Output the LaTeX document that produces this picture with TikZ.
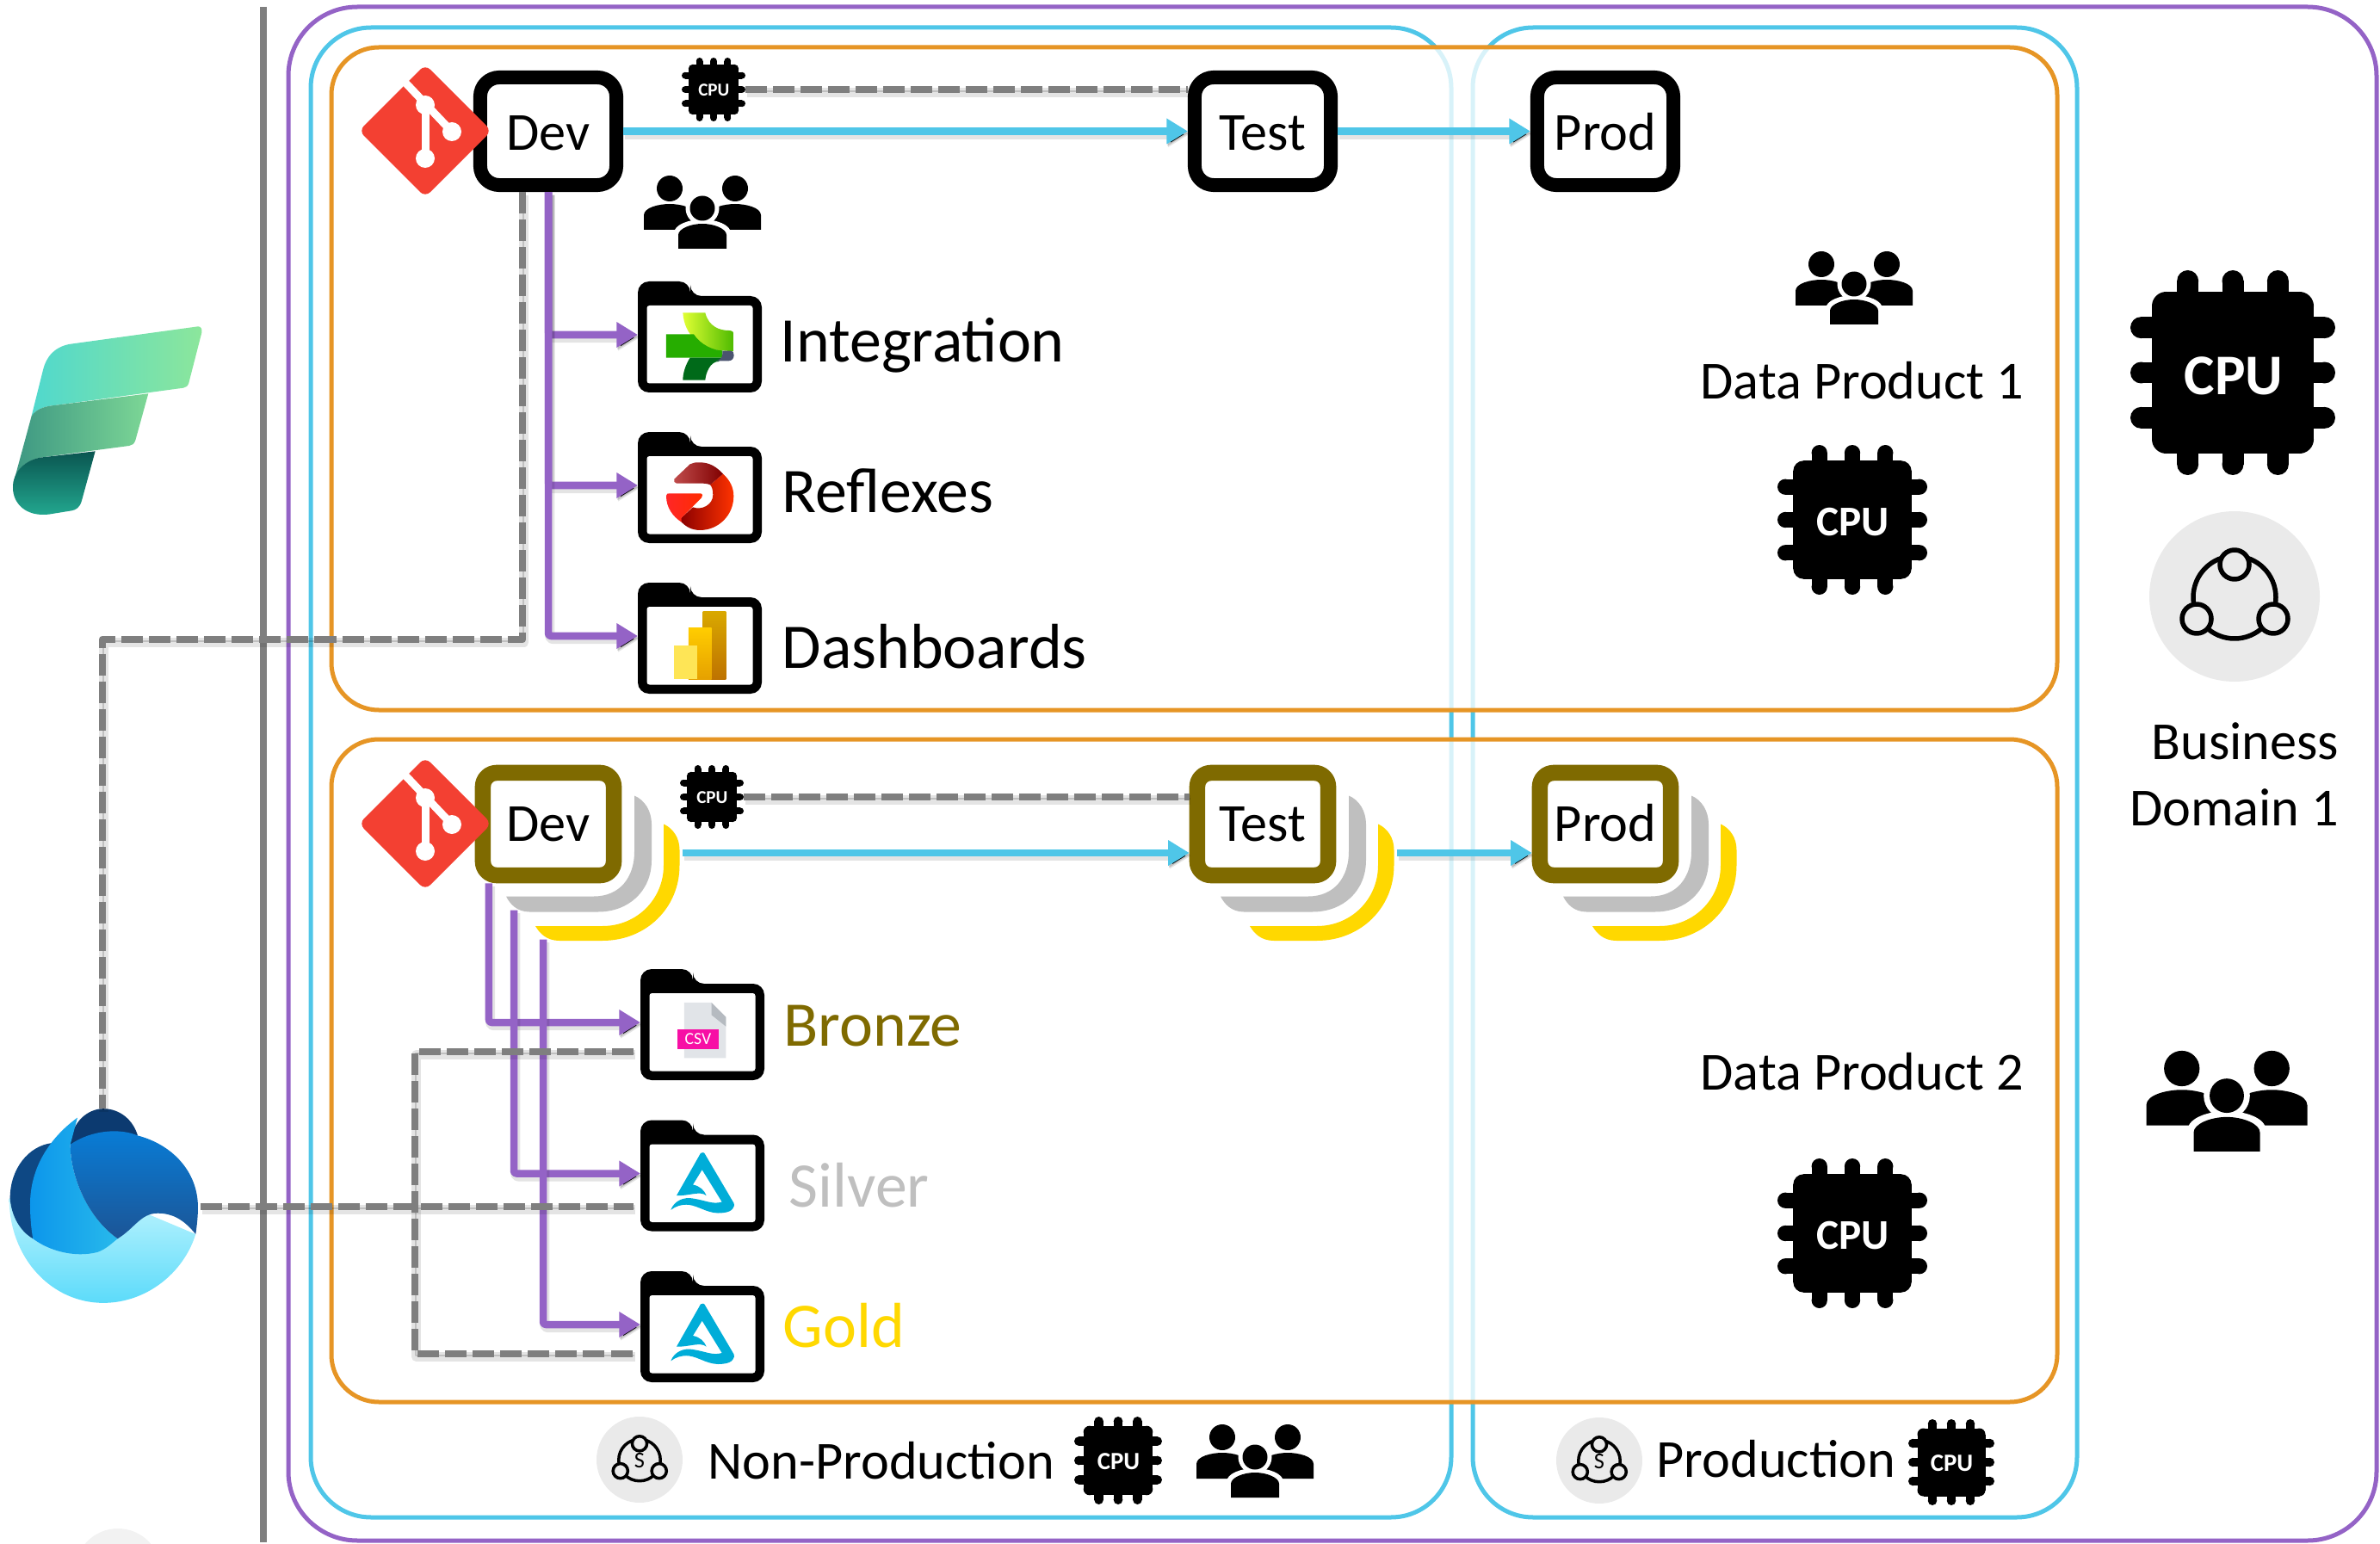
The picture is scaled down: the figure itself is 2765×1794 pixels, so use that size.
\documentclass[tikz,border=0pt]{standalone}
\usepackage{fontspec}
\setmainfont{Carlito}
\usetikzlibrary{arrows.meta}
\definecolor{domainpurple}{HTML}{9463C6}
\definecolor{envblue}{HTML}{4FC6E8}
\definecolor{productorange}{HTML}{E69525}
\definecolor{linkgray}{HTML}{7F7F7F}
\definecolor{bronze}{HTML}{7F6A00}
\definecolor{silver}{HTML}{BFBFBF}
\definecolor{gold}{HTML}{FFD800}
\definecolor{gitred}{HTML}{F34032}
\definecolor{wsgray}{HTML}{EAEAEA}
\definecolor{lakeblue}{HTML}{00ADD8}
\tikzset{
  linkshadow/.style={preaction={draw=black,line width=.11cm,draw opacity=.1,transform canvas={xshift=.5pt,yshift=-1pt}},
    preaction={draw=black,draw opacity=.16,transform canvas={xshift=.3pt,yshift=-.6pt}}},
  bluelink/.style={draw=envblue,line width=.085cm,line cap=butt,linkshadow,->},
  purplelink/.style={draw=domainpurple,line width=.085cm,line cap=butt,rounded corners=.03cm,linkshadow,->},
  graylink/.style={draw=linkgray,line width=.085cm,line cap=butt,dash pattern=on .25cm off .07cm,linkshadow},
  envbox/.style={draw=black,fill=white,line width=.16cm,rounded corners=.22cm,minimum width=1.58cm,minimum height=1.25cm,inner sep=0pt,text height=.44cm,text depth=0cm,font=\fontsize{17.7}{20}\selectfont},
  lakebox/.style={draw=bronze,fill=white,line width=.185cm,rounded corners=.16cm,minimum width=1.52cm,minimum height=1.19cm,inner sep=0pt,text height=.40cm,text depth=0cm,font=\fontsize{17.7}{20}\selectfont},
  biglabel/.style={anchor=base west,inner sep=0pt,font=\fontsize{21}{24}\selectfont},
  smalllabel/.style={anchor=base west,inner sep=0pt,font=\fontsize{17.7}{20}\selectfont},
  sidelabel/.style={anchor=base east,inner sep=0pt,font=\fontsize{17.7}{20}\selectfont},
  cpu/.pic={
    \foreach \a in {0,90,180,270} {
      \begin{scope}[rotate=\a]
        \foreach \p in {-44,0,44} {
          \fill (\p-10.5,-89.5) rectangle (\p+10.5,0);
          \fill (\p,-89.5) circle [radius=10.5];
        }
        \fill (-65,-65) circle [radius=14];
      \end{scope}
    }
    \fill (-79,-65) rectangle (79,65);
    \fill (-65,-79) rectangle (65,79);
    \coordinate (-e) at (100,0);
    \node[text=white,inner sep=0pt] (-t) at (1,3) {\bfseries CPU};
  },
  people/.pic={
    \foreach \s in {-1,1} {
      \fill (38*\s,-28) circle [radius=15];
      \fill (-68*\s,20) -- (-68*\s,3) .. controls (-68*\s,-6) and (-50*\s,-10) .. (-38*\s,-10)
        .. controls (-26*\s,-10) and (-8*\s,-6) .. (-8*\s,3) -- (-8*\s,20) -- cycle;
    }
    \fill[white] (0,-5) circle [radius=19.5];
    \fill[white] (-33,44) -- (-33,24) .. controls (-33,14) and (-16,8) .. (0,8) .. controls (16,8) and (33,14) .. (33,24) -- (33,44) -- cycle;
    \fill (0,-5) circle [radius=14.5];
    \fill (-28,42) -- (-28,26) .. controls (-28,19) and (-14,13) .. (0,13) .. controls (14,13) and (28,19) .. (28,26) -- (28,42) -- cycle;
  },
  folder/.pic={
    \fill[rounded corners=.13cm] (-72,64) -- (-72,-65) -- (-11,-65) -- (-11,-48) -- (72,-48) -- (72,64) -- cycle;
    \fill[white,rounded corners=.03cm] (-61.5,-37) rectangle (61.5,53.5);
    \coordinate (-w) at (-72,-3);
    \coordinate (-s) at (-80,31);
  },
  lakeicon/.pic={
    \fill[lakeblue,scale=.3333] (-6,-80) .. controls (0,-86) and (7,-80) .. (7,-80) -- (110,95)
      .. controls (114,105) and (107,125) .. (72,128) .. controls (22,135) and (-8,105) .. (-48,100)
      .. controls (-73,98) and (-93,105) .. (-110,118) .. controls (-98,85) and (-63,72) .. (-33,78)
      .. controls (12,85) and (37,100) .. (68,90) -- (-1,-22) -- (-33,30)
      .. controls (-8,35) and (7,50) .. (14,68) .. controls (-8,50) and (-48,70) .. (-90,68) -- cycle;
  },
  stack/.pic={
    \fill[silver] (100,-33) .. controls (112,-28) and (120,-15) .. (120,0) -- (120,42)
      .. controls (120,78) and (93,102) .. (58,102) -- (-22,102) .. controls (-37,102) and (-45,92) .. (-49,84)
      -- (53,84) .. controls (83,84) and (100,62) .. (100,32) -- cycle;
    \fill[gold] (134,0) .. controls (145,5) and (152.5,16) .. (152.5,30) -- (152.5,48)
      .. controls (152.5,98) and (113,135.5) .. (63,135.5) -- (13,135.5) .. controls (-2,135.5) and (-10,127) .. (-15,118.5)
      -- (63,118.5) .. controls (103,118.5) and (134,87) .. (134,48) -- cycle;
    \coordinate (-gray) at (-40,100);
    \coordinate (-gold) at (-6,134);
    \coordinate (-e) at (156,33.5);
  },
  workspace/.pic={
    \fill[wsgray] (0,0) circle [radius=99];
    \draw[black,fill=none] (0,1) circle [radius=48];
    \draw[black,fill=wsgray] (0,-37) circle [radius=17];
    \draw[black,fill=wsgray] (-44,26) circle [radius=17];
    \draw[black,fill=wsgray] (45,26) circle [radius=17];
  },
  gitlogo/.pic={
    \fill[gitred,rounded corners=.08cm] (0,-77) -- (77,0) -- (0,77) -- (-77,0) -- cycle;
    \draw[white,line width=.09cm,line cap=butt] (-24,-57) -- (31,1);
    \draw[white,line width=.09cm,line cap=butt] (0,-30) -- (0,32);
    \fill[white] (0,-30) circle [radius=11];
    \fill[white] (31,1) circle [radius=11];
    \fill[white] (0,32) circle [radius=11];
  }
}

\begin{document}
\begin{tikzpicture}[line join=round,>={Triangle[length=7pt,width=8pt]},x=0.01cm,y=-0.01cm]
\useasboundingbox (0,0) rectangle (2765,1794);
% frames
\draw [line width=.05cm,color=domainpurple,rounded corners=.8cm] (335,8) rectangle (2761,1790);
\draw [line width=.05cm,color=envblue,rounded corners=.7cm] (361,32) rectangle (1686,1763);
\draw [line width=.05cm,color=envblue,rounded corners=.7cm] (1711,32) rectangle (2413,1763);
\draw [line width=.05cm,color=productorange,fill=white,fill opacity=.78,rounded corners=.55cm] (385,55) rectangle (2390,825);
\draw [line width=.05cm,color=productorange,fill=white,fill opacity=.78,rounded corners=.55cm] (385,859) rectangle (2390,1629);
\draw [line width=.08cm,color=linkgray] (306,8) -- (306,1792);
\fill [color=wsgray!60] (137,1826) circle [radius=50];
% fabric logo
\begin{scope}[shift={(0,340)},scale=.3333]
\shade [left color={rgb,255:red,80;green,216;blue,205},middle color={rgb,255:red,106;green,232;blue,190},right color={rgb,255:red,140;green,230;blue,155}] (690,118) -- (240,180) .. controls (170,195) and (155,250) .. (150,270) -- (110,430) .. controls (130,400) and (170,395) .. (190,393) -- (640,332) .. controls (650,330) and (655,325) .. (658,315) -- (703,140) .. controls (705,125) and (700,118) .. (690,118) -- cycle;
\shade [left color={rgb,255:red,60;green,150;blue,130},middle color={rgb,255:red,32;green,160;blue,135},right color={rgb,255:red,125;green,215;blue,150}] (110,430) .. controls (130,400) and (170,395) .. (190,393) -- (517,352) -- (472,515) .. controls (468,528) and (460,532) .. (450,534) -- (140,575) .. controls (80,590) and (55,620) .. (45,670) -- cycle;
\shade [top color={rgb,255:red,10;green,85;blue,80},bottom color={rgb,255:red,35;green,170;blue,145}] (332,553) -- (285,725) .. controls (278,750) and (265,757) .. (250,760) -- (170,773) .. controls (90,782) and (45,735) .. (45,680) .. controls (45,620) and (90,585) .. (140,575) -- cycle;
\end{scope}
% lakehouse logo
\begin{scope}[shift={(0,1250)},xscale=.3333,yscale=.3472]
\shade [top color={rgb,255:red,190;green,244;blue,254},bottom color={rgb,255:red,92;green,219;blue,250}] (32,410) .. controls (32,610) and (180,760) .. (360,760) .. controls (510,760) and (640,660) .. (682,530) -- (360,400) -- cycle;
\fill [color={rgb,255:red,12;green,58;blue,112}] (245,230) .. controls (250,150) and (310,110) .. (360,110) .. controls (420,110) and (465,150) .. (480,200) -- cycle;
\fill [color={rgb,255:red,14;green,72;blue,132}] (35,410) .. controls (35,310) and (100,235) .. (180,225) -- (115,545) .. controls (70,520) and (40,470) .. (35,410) -- cycle;
\shade [left color={rgb,255:red,12;green,150;blue,235},right color={rgb,255:red,40;green,185;blue,235}] (270,140) .. controls (170,210) and (105,310) .. (105,430) .. controls (105,480) and (110,520) .. (115,545) .. controls (170,585) and (260,610) .. (340,590) .. controls (370,580) and (390,560) .. (410,545) .. controls (300,470) and (245,330) .. (245,230) -- cycle;
\shade [top color={rgb,255:red,8;green,125;blue,215},bottom color={rgb,255:red,28;green,85;blue,150}] (245,230) .. controls (320,180) and (420,175) .. (480,200) .. controls (600,230) and (690,320) .. (690,440) .. controls (690,470) and (686,505) .. (682,530) .. controls (640,480) and (600,460) .. (550,460) .. controls (490,460) and (470,510) .. (410,545) .. controls (300,470) and (245,330) .. (245,230) -- cycle;
\end{scope}
\coordinate (lakeTop) at (119,1288);
\coordinate (lakeEast) at (233,1402);
\coordinate (fabricBus) at (119,743);
% stacked shapes
\pic (stackA) at (637,957.5) {stack};
\pic (stackB) at (1467,957.5) {stack};
\pic (stackC) at (1865,957.5) {stack};
% environment nodes
\node [envbox] (devA) at (637,152.5) {Dev};
\node [envbox] (testA) at (1467,152.5) {Test};
\node [envbox] (prodA) at (1865,152.5) {Prod};
\node [lakebox] (devB) at (637,957.5) {Dev};
\node [lakebox] (testB) at (1467,957.5) {Test};
\node [lakebox] (prodB) at (1865,957.5) {Prod};
\pic (gitA) at (494,152) {gitlogo};
\pic (gitB) at (494,957) {gitlogo};
% folders
\pic (fInt) at (813,392) {folder};
\pic (fRef) at (813,567) {folder};
\pic (fDash) at (813,742) {folder};
\pic (fBronze) at (816,1191) {folder};
\pic (fSilver) at (816,1366.5) {folder};
\pic (fGold) at (816,1542) {folder};
% integration icon
\begin{scope}[shift={(700,300)},scale=.3333]
\shade [left color=lime!60!yellow!80!white,right color=green!55!black!60!lime] (280,190) -- (358,190) .. controls (370,240) and (410,252) .. (440,252) .. controls (452,252) and (458,258) .. (458,265) -- (458,325) -- (418,322) .. controls (345,320) and (285,270) .. (280,190) -- cycle;
\fill [color=green!60!black!80!lime] (222,265) -- (318,265) .. controls (340,300) and (385,322) .. (418,322) -- (418,347) -- (222,347) -- cycle;
\fill [color=green!35!black!90!cyan] (305,347) -- (418,347) -- (405,360) .. controls (375,360) and (360,400) .. (358,425) -- (280,425) .. controls (280,400) and (290,370) .. (305,347) -- cycle;
\fill [color=cyan!40!blue!45!black] (418,323) -- (445,323) .. controls (455,323) and (458,330) .. (458,338) .. controls (458,350) and (450,358) .. (440,358) -- (395,358) .. controls (405,355) and (418,350) .. (418,335) -- cycle;
\end{scope}
% reflex icon
\begin{scope}[shift={(700,300)},scale=.3333]
\shade [left color=red!55!black,right color=orange!40!red] (275,905) -- (315,868) .. controls (345,880) and (385,860) .. (385,825) .. controls (385,805) and (380,795) .. (375,790) -- (420,752) .. controls (445,775) and (457,800) .. (457,830) .. controls (457,895) and (405,948) .. (340,948) .. controls (310,948) and (290,935) .. (275,920) -- cycle;
\shade [left color=red!65!black!70!white,right color=red!50!black] (250,770) -- (305,718) .. controls (315,712) and (325,712) .. (340,712) .. controls (375,712) and (400,730) .. (420,752) -- (375,790) .. controls (365,785) and (350,785) .. (340,785) -- (258,785) .. controls (250,785) and (247,775) .. (250,770) -- cycle;
\shade [left color=red!80!pink,right color=orange!35!red] (222,828) .. controls (222,820) and (228,820) .. (235,820) -- (340,820) .. controls (350,820) and (350,830) .. (345,835) -- (275,905) -- (275,920) .. controls (245,900) and (222,870) .. (222,828) -- cycle;
\end{scope}
% dashboard icon
\begin{scope}[shift={(700,300)},scale=.3333]
\shade [top color=yellow!55!orange!85!black,bottom color=orange!70!black!85!yellow] (350,1232) rectangle (430,1468);
\shade [top color=yellow!60!orange,bottom color=orange!60!yellow!90!black] (300,1290) rectangle (380,1468);
\fill [color=yellow!60!white!85!orange] (250,1350) rectangle (330,1468);
\end{scope}
% csv icon
\begin{scope}[shift={(700,1100)},scale=.3333]
\fill [color={rgb,255:red,225;green,228;blue,232}] (285,195) -- (380,195) -- (430,245) -- (430,388) -- (285,388) -- cycle;
\fill [color={rgb,255:red,181;green,186;blue,192}] (380,195) -- (430,245) -- (430,278) -- (380,238) -- cycle;
\fill [color={rgb,255:red,247;green,15;blue,165}] (262,287) rectangle (405,358);
\end{scope}
\node [text=white,inner sep=0pt,font=\fontsize{5.6}{6}\selectfont] (csvTag) at (811,1207) {CSV};
\pic (lakeSilver) at (816,1366.5) {lakeicon};
\pic (lakeGold) at (816,1542) {lakeicon};
% chips and people
\pic [scale=.37,font=\fontsize{6}{7}\selectfont] (cpuA) at (829,104) {cpu};
\pic [scale=.37,font=\fontsize{6}{7}\selectfont] (cpuB) at (827,926) {cpu};
\pic [scale=.87,font=\fontsize{14}{16}\selectfont] (cpuC) at (2152,604) {cpu};
\pic [scale=.87,font=\fontsize{14}{16}\selectfont] (cpuD) at (2152,1433) {cpu};
\pic [scale=1.19,font=\fontsize{19}{22}\selectfont] (cpuE) at (2594,433) {cpu};
\pic [scale=.51,font=\fontsize{8.2}{9}\selectfont] (cpuF) at (1299,1697) {cpu};
\pic [scale=.5,font=\fontsize{8.2}{9}\selectfont] (cpuG) at (2267,1699) {cpu};
\pic (peopleA) at (816,247) {people};
\pic (peopleB) at (2154,335) {people};
\pic [scale=1.375] (peopleC) at (2587,1280) {people};
\pic (peopleD) at (1458,1698) {people};
\pic [line width=.055cm] (wsBig) at (2596,693) {workspace};
\pic [scale=.505,line width=.035cm] (wsNon) at (743,1696) {workspace};
\pic [scale=.505,line width=.035cm] (wsProd) at (1858,1697) {workspace};
\node [inner sep=0pt,font=\fontsize{7.5}{8}\selectfont] (wsNonS) at (743,1697) {S};
\node [inner sep=0pt,font=\fontsize{7.5}{8}\selectfont] (wsProdS) at (1858,1698) {S};
% links
\draw [bluelink] (devA.east) -- (testA.west);
\draw [bluelink] (testA.east) -- (prodA.west);
\draw [bluelink] (stackA-e) -- (stackA-e -| testB.west);
\draw [bluelink] (stackB-e) -- (stackB-e -| prodB.west);
\foreach \f in {fInt,fRef,fDash} \draw [purplelink] (devA.south) |- (\f-w);
\draw [purplelink] ([xshift=-.69cm]devB.south) |- (fBronze-w);
\draw [purplelink] (stackA-gray) |- (fSilver-w);
\draw [purplelink] (stackA-gold) |- (fGold-w);
\draw [graylink] (cpuA-e) -- (cpuA-e -| testA.west);
\draw [graylink] (cpuB-e) -- (cpuB-e -| testB.west);
\draw [graylink] ([xshift=-.3cm]devA.south) |- (fabricBus) -- (lakeTop);
\draw [graylink] (lakeEast) -- (lakeEast -| fSilver-s);
\draw [graylink] (fBronze-s) -- ++(-254,0) |- (fGold-s);
% labels
\node [biglabel] (lblInt) at (906,421) {Integration};
\node [biglabel] (lblRef) at (908,595) {Reflexes};
\node [biglabel] (lblDash) at (908,776) {Dashboards};
\node [biglabel,text=bronze] (lblBronze) at (910,1215) {Bronze};
\node [biglabel,text=silver] (lblSilver) at (916,1402) {Silver};
\node [biglabel,text=gold] (lblGold) at (909,1565) {Gold};
\node [smalllabel] (lblDpOne) at (1975,464) {Data Product 1};
\node [smalllabel] (lblDpTwo) at (1975,1266) {Data Product 2};
\node [smalllabel] (lblNon) at (822,1718) {Non-Production};
\node [smalllabel] (lblProd) at (1924,1716) {Production};
\node [sidelabel] (lblBiz) at (2718,882) {Business};
\node [sidelabel] (lblDom) at (2718,959) {Domain 1};
\end{tikzpicture}
\end{document}
